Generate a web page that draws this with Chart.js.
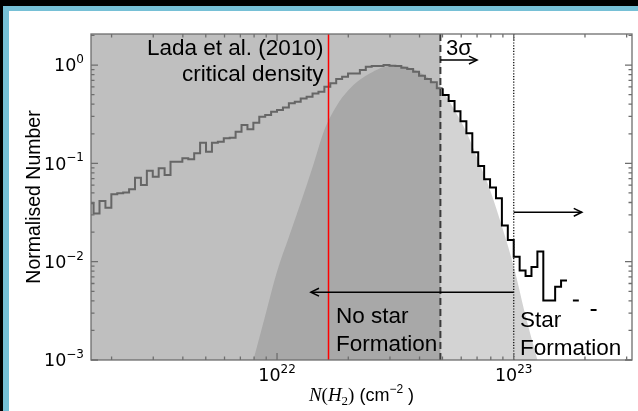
<!DOCTYPE html>
<html lang="en">
<head>
  <meta charset="UTF-8">
  <title>Column density PDF</title>
  <script src="https://cdn.jsdelivr.net/npm/chart.js"></script>
  <style>
    body { margin: 0; background: #000; }
    .frame {
      position: absolute; left: 3px; top: 6px;
      width: 629px; height: 400px;
      border-top: 5px solid #76c0d6;
      border-left: 6px solid #76c0d6;
      background: #fff;
    }
    .chart-box { position: absolute; left: 0; top: 0; width: 638px; height: 411px; }
  </style>
</head>
<body>
  <div class="frame"></div>
  <div class="chart-box"><canvas id="pdfChart"></canvas></div>

  <script>
    // histogram bins in log10 N(H2): 0.025 dex wide, first bin starts at 21.2
    const binStart = 21.2;
    const binWidth = 0.025;
    // normalised counts below the 3 sigma limit (drawn grey)
    const histBelow = [
      0.0392, 0.0310, 0.0414, 0.0354, 0.0484, 0.0496, 0.0507, 0.0544, 0.0714, 0.0602,
      0.0841, 0.0731, 0.0890, 0.0761, 0.104, 0.104, 0.1125, 0.110, 0.1265, 0.162,
      0.131, 0.162, 0.166, 0.180, 0.182, 0.210, 0.245, 0.222, 0.259, 0.298,
      0.310, 0.335, 0.349, 0.371, 0.408, 0.424, 0.458, 0.476, 0.515, 0.535,
      0.601, 0.652, 0.721, 0.760, 0.823, 0.823, 0.890, 0.961, 0.977, 0.977,
      1.0, 0.984, 0.977, 0.939, 0.911, 0.855, 0.778, 0.721, 0.667, 0.580
    ];
    // normalised counts above the 3 sigma limit (drawn black), null = empty bin
    const histAbove = [
      0.495, 0.43, 0.34, 0.269, 0.203, 0.130, 0.094, 0.069, 0.0568, 0.0441,
      0.0233, 0.0166, 0.0112, 0.00813, 0.00715, 0.00883, 0.0127, 0.00403, 0.00403, 0.00556,
      0.00643, null, 0.00403, null, null, 0.00322
    ];

    // log-normal shape under the histogram
    const fitLogN = [21.90, 21.95, 22.00, 22.05, 22.10, 22.15, 22.20, 22.25, 22.30, 22.35,
                     22.40, 22.45, 22.50, 22.55, 22.60, 22.65, 22.70, 22.75, 22.80, 22.85,
                     22.90, 22.95, 23.00, 23.05, 23.10];
    const fitValues = [0.001, 0.00282, 0.00794, 0.0178, 0.0398, 0.0912, 0.219, 0.380, 0.550, 0.708,
                       0.841, 0.955, 1.0, 0.955, 0.851, 0.708, 0.537, 0.347, 0.209, 0.107,
                       0.0537, 0.0229, 0.00891, 0.00282, 0.001];

    // reference column densities
    const ladaDensity = 1.65e22;
    const sigma3Density = 4.9e22;
    const sfThreshold = 1e23;

    // axis limits and labelled ticks
    const xMin = 1.637e21, xMax = 3.16e23;
    const yMin = 1e-3, yMax = 2.07;
    const xTickExps = [22, 23];
    const yTickExps = [-3, -2, -1, 0];

    // arrows: [x from, x to, y]
    const sigmaArrow = [4.9e22, 7.0e22, 1.124];
    const sfArrow = [1e23, 1.94e23, 0.0318];
    const noSfArrow = [1e23, 1.39e22, 0.0049];

    function stepPoints(values, firstBin) {
      const pts = [];
      values.forEach((v, i) => {
        const lo = Math.pow(10, binStart + (firstBin + i) * binWidth);
        const hi = Math.pow(10, binStart + (firstBin + i + 1) * binWidth);
        if (v === null) {
          pts.push({ x: lo, y: null });
        } else {
          pts.push({ x: lo, y: v }, { x: hi, y: v });
        }
      });
      return pts;
    }

    const greyPts = stepPoints(histBelow, 0);
    const blackPts = [{ x: Math.pow(10, binStart + histBelow.length * binWidth), y: histBelow[histBelow.length - 1] }]
      .concat(stepPoints(histAbove, histBelow.length));
    const fitPts = fitLogN.map((l, i) => ({ x: Math.pow(10, l), y: fitValues[i] }));

    const sans = '"Liberation Sans", Arial, sans-serif';

    function drawArrow(ctx, x1, y1, x2, y2) {
      ctx.beginPath(); ctx.moveTo(x1, y1); ctx.lineTo(x2, y2); ctx.stroke();
      const ang = Math.atan2(y2 - y1, x2 - x1), L = 9, W = 0.45;
      ctx.beginPath();
      ctx.moveTo(x2 - L * Math.cos(ang - W), y2 - L * Math.sin(ang - W));
      ctx.lineTo(x2, y2);
      ctx.lineTo(x2 - L * Math.cos(ang + W), y2 - L * Math.sin(ang + W));
      ctx.stroke();
    }

    // "10" with a superscript exponent; yMid is the centre of the digits
    function drawPow(ctx, exp, x, yMid, align) {
      const base = '10', sup = String(exp).replace('-', '\u2212');
      ctx.font = '17.5px "DejaVu Sans"';
      const wb = ctx.measureText(base).width;
      ctx.font = '12px "DejaVu Sans"';
      const ws = ctx.measureText(sup).width;
      const left = align === 'right' ? x - wb - ws : x - (wb + ws) / 2;
      const baseY = yMid + 6.4;
      ctx.textAlign = 'left';
      ctx.textBaseline = 'alphabetic';
      ctx.font = '17.5px "DejaVu Sans"';
      ctx.fillText(base, left, baseY);
      ctx.font = '12px "DejaVu Sans"';
      ctx.fillText(sup, left + wb, baseY - 8.5);
    }

    const decor = {
      id: 'decor',
      beforeDatasetsDraw(chart) {
        const { ctx, chartArea: a, scales: { x } } = chart;
        ctx.save();
        ctx.fillStyle = 'rgba(128,128,128,0.5)';
        ctx.fillRect(a.left, a.top, x.getPixelForValue(sigma3Density) - a.left, a.bottom - a.top);
        ctx.restore();
      },
      afterDatasetsDraw(chart) {
        const { ctx, chartArea: a, scales: { x, y } } = chart;
        ctx.save();
        // Lada et al. critical density
        ctx.strokeStyle = '#ff0000'; ctx.lineWidth = 1.5;
        let px = x.getPixelForValue(ladaDensity);
        ctx.beginPath(); ctx.moveTo(px, a.top); ctx.lineTo(px, a.bottom); ctx.stroke();
        // 3 sigma limit
        ctx.strokeStyle = '#3a3a3a'; ctx.lineWidth = 2; ctx.setLineDash([7, 4]);
        px = x.getPixelForValue(sigma3Density);
        ctx.beginPath(); ctx.moveTo(px, a.top); ctx.lineTo(px, a.bottom); ctx.stroke();
        // star formation threshold
        ctx.strokeStyle = '#111'; ctx.lineWidth = 1.3; ctx.setLineDash([1.2, 1.6]);
        px = x.getPixelForValue(sfThreshold);
        ctx.beginPath(); ctx.moveTo(px, a.top); ctx.lineTo(px, a.bottom); ctx.stroke();
        ctx.setLineDash([]);
        // arrows
        ctx.strokeStyle = '#000'; ctx.lineWidth = 1.5;
        [sigmaArrow, sfArrow, noSfArrow].forEach(([x1, x2, v]) => {
          const py = y.getPixelForValue(v);
          drawArrow(ctx, x.getPixelForValue(x1), py, x.getPixelForValue(x2), py);
        });
        ctx.restore();
      },
      afterDraw(chart) {
        const { ctx, chartArea: a, scales: { x, y } } = chart;
        ctx.save();
        // frame
        ctx.strokeStyle = '#6e6e6e'; ctx.lineWidth = 1.3;
        ctx.strokeRect(a.left, a.top, a.right - a.left, a.bottom - a.top);
        // inward log ticks on all four sides
        ctx.beginPath();
        for (let d = 21; d <= 23; d++) {
          for (let m = 1; m <= 9; m++) {
            const v = m * Math.pow(10, d);
            if (v < xMin || v > xMax) continue;
            const p = x.getPixelForValue(v), len = m === 1 ? 7 : 3.5;
            ctx.moveTo(p, a.bottom); ctx.lineTo(p, a.bottom - len);
            ctx.moveTo(p, a.top); ctx.lineTo(p, a.top + len);
          }
        }
        for (let d = -3; d <= 0; d++) {
          for (let m = 1; m <= 9; m++) {
            const v = m * Math.pow(10, d);
            if (v < yMin || v > yMax) continue;
            const p = y.getPixelForValue(v), len = m === 1 ? 7 : 3.5;
            ctx.moveTo(a.left, p); ctx.lineTo(a.left + len, p);
            ctx.moveTo(a.right, p); ctx.lineTo(a.right - len, p);
          }
        }
        ctx.stroke();

        // tick labels
        ctx.fillStyle = '#000';
        yTickExps.forEach(e => drawPow(ctx, e, a.left - 7, y.getPixelForValue(Math.pow(10, e)), 'right'));
        xTickExps.forEach(e => drawPow(ctx, e, x.getPixelForValue(Math.pow(10, e)), a.bottom + 15, 'center'));

        // y axis title
        ctx.save();
        ctx.translate(34.5, (a.top + a.bottom) / 2);
        ctx.rotate(-Math.PI / 2);
        ctx.font = '19.5px ' + sans;
        ctx.textAlign = 'center'; ctx.textBaseline = 'middle';
        ctx.fillText('Normalised Number', 0, 0);
        ctx.restore();

        // x axis title: N(H2) (cm^-2)
        const serifI = 'italic 19px "Liberation Serif", serif';
        const serif = '19px "Liberation Serif", serif';
        const parts = [
          ['N', serifI, 0], ['(', serif, 0], ['H', serifI, 0], ['2', '13px "Liberation Serif", serif', 4],
          [')', serif, 0], [' (cm', '18px ' + sans, 0], ['\u22122', '12px ' + sans, -8], [' )', '18px ' + sans, 0]
        ];
        let total = 0;
        parts.forEach(p => { ctx.font = p[1]; total += ctx.measureText(p[0]).width; });
        let cx = (a.left + a.right) / 2 - total / 2;
        ctx.textAlign = 'left'; ctx.textBaseline = 'alphabetic';
        parts.forEach(p => {
          ctx.font = p[1];
          ctx.fillText(p[0], cx, 401 + p[2]);
          cx += ctx.measureText(p[0]).width;
        });

        // annotations
        ctx.font = '22.5px ' + sans;
        ctx.textAlign = 'right';
        let ax = x.getPixelForValue(1.57e22), ay = y.getPixelForValue(1.26);
        ctx.fillText('Lada et al. (2010)', ax, ay);
        ctx.fillText('critical density', ax, ay + 26);
        ctx.textAlign = 'left';
        ax = x.getPixelForValue(5.18e22);
        ctx.font = '22px ' + sans;
        ctx.fillText('3\u03c3', ax, ay);
        ctx.font = '22.5px ' + sans;
        ax = x.getPixelForValue(1.775e22); ay = y.getPixelForValue(0.00238);
        ctx.fillText('No star', ax, ay);
        ctx.fillText('Formation', ax, ay + 28.5);
        ax = x.getPixelForValue(1.063e23); ay = y.getPixelForValue(0.00217);
        ctx.fillText('Star', ax, ay);
        ctx.fillText('Formation', ax, ay + 28.5);
        ctx.restore();
      }
    };

    new Chart(document.getElementById('pdfChart'), {
      type: 'scatter',
      data: {
        datasets: [
          {
            label: 'Black histogram',
            data: blackPts,
            showLine: true,
            borderColor: '#000',
            borderWidth: 2,
            pointRadius: 0,
            spanGaps: false,
            order: 1
          },
          {
            label: 'Grey histogram',
            data: greyPts,
            showLine: true,
            borderColor: '#666666',
            borderWidth: 2,
            pointRadius: 0,
            order: 2
          },
          {
            label: 'Log-normal',
            data: fitPts,
            showLine: true,
            borderWidth: 0,
            borderColor: 'rgba(0,0,0,0)',
            backgroundColor: 'rgba(120,120,120,0.33)',
            fill: 'start',
            cubicInterpolationMode: 'monotone',
            pointRadius: 0,
            order: 3
          }
        ]
      },
      options: {
        responsive: true,
        maintainAspectRatio: false,
        animation: false,
        layout: { padding: { left: 91, right: 6, top: 34, bottom: 51 } },
        plugins: { legend: { display: false }, tooltip: { enabled: false } },
        scales: {
          x: { type: 'logarithmic', min: xMin, max: xMax, display: false },
          y: { type: 'logarithmic', min: yMin, max: yMax, display: false }
        }
      },
      plugins: [decor]
    });
  </script>
</body>
</html>
